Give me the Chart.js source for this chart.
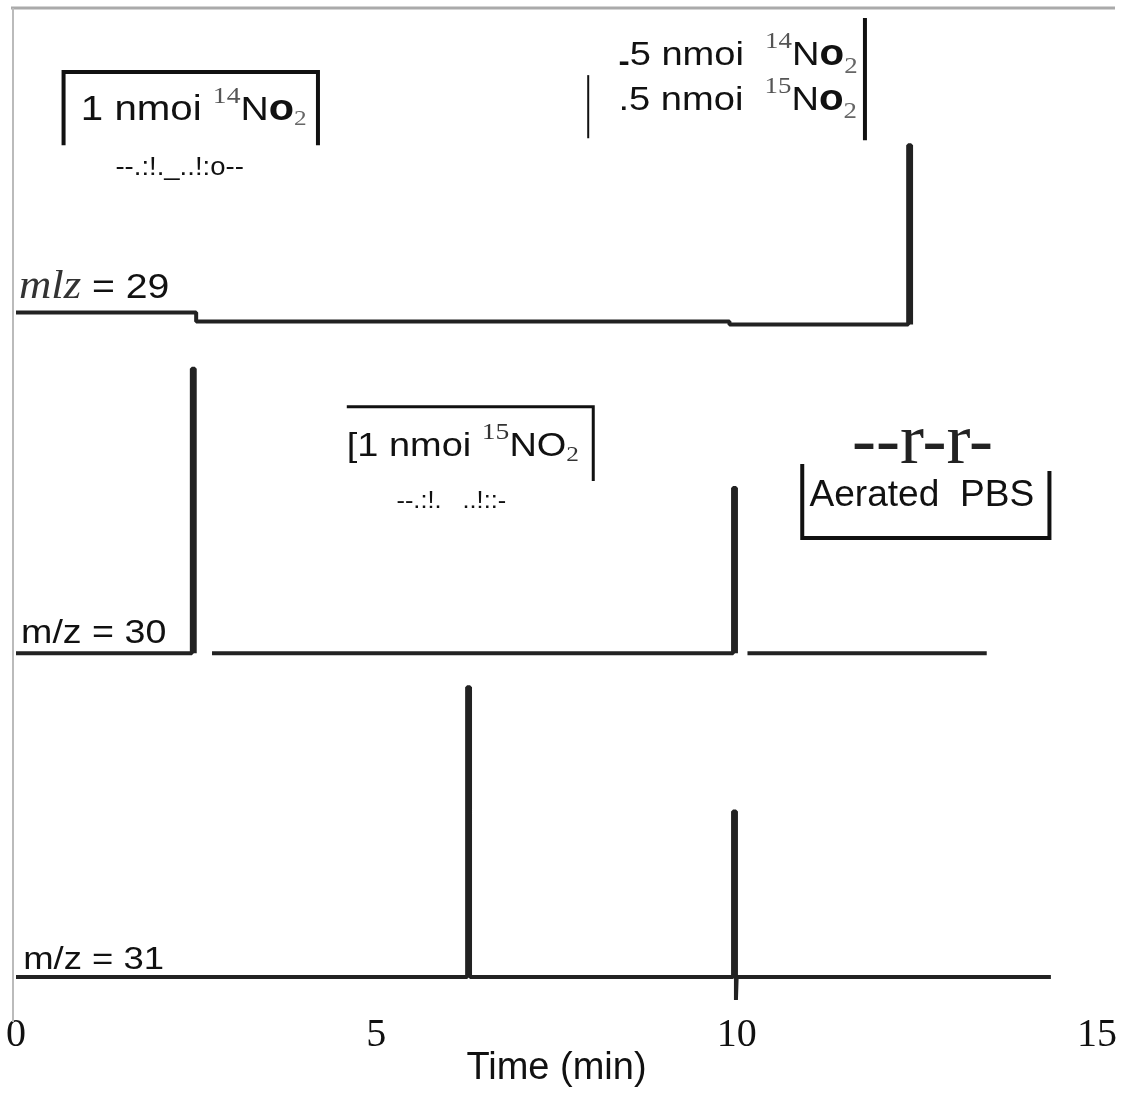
<!DOCTYPE html>
<html>
<head>
<meta charset="utf-8">
<title>m/z traces</title>
<script src="https://cdn.jsdelivr.net/npm/chart.js@4/dist/chart.umd.min.js"></script>
<style>
  html, body { margin: 0; padding: 0; background: #fff; }
  #wrap { width: 1123px; height: 1095px; }
</style>
</head>
<body>
<div id="wrap"><canvas id="chart"></canvas></div>
<script>
// time axis ticks (min)
const timeTicks = [0, 5, 10, 15];

// m/z = 29 trace (time in min, signal in arbitrary offset units)
const mz29Time = [0, 2.5, 2.5, 9.9, 9.9, 12.38, 12.38, 12.42, 12.42];
const mz29Signal = [69.6, 69.6, 68.7, 68.7, 68.4, 68.4, 86.3, 86.3, 68.4];

// m/z = 30 trace (null = gap in the recording)
const mz30Time = [0, 2.44, 2.44, 2.48, 2.48, 2.6, 2.72, 9.95, 9.95, 9.99, 9.99, 10.07, 10.15, 13.47];
const mz30Signal = [35.6, 35.6, 64.0, 64.0, 35.6, null, 35.6, 35.6, 52.1, 52.1, 35.6, null, 35.6, 35.6];

// m/z = 31 trace
const mz31Time = [0, 6.26, 6.26, 6.30, 6.30, 9.95, 9.95, 9.99, 9.99, 10.0, 14.36];
const mz31Signal = [3.3, 3.3, 32.2, 32.2, 3.3, 3.3, 19.8, 19.8, 1.0, 3.3, 3.3];

const SANS = '"Liberation Sans", Arial, sans-serif';
const SERIF = '"Liberation Serif", "Times New Roman", serif';

function toPoints(times, values) {
    return times.map((t, i) => ({ x: t, y: values[i] }));
}

function trace(label, times, values) {
    return {
        label: label,
        data: toPoints(times, values),
        borderColor: '#222',
        borderWidth: 4,
        pointRadius: 0,
        tension: 0,
        spanGaps: false,
        borderJoinStyle: 'bevel',
        borderCapStyle: 'butt'
    };
}

// draw a row of text pieces (super/subscripts), sx = horizontal stretch
function drawRuns(ctx, x, y, runs, sx) {
    sx = sx || 1;
    let cx = x;
    runs.forEach(r => {
        ctx.font = r.f;
        ctx.fillStyle = r.c || '#111';
        ctx.save();
        ctx.translate(cx, y + (r.dy || 0));
        ctx.scale(sx, 1);
        ctx.fillText(r.t, 0, 0);
        ctx.restore();
        cx += ctx.measureText(r.t).width * sx;
    });
}

const frame = {
    id: 'frame',
    beforeDatasetsDraw(chart) {
        const { ctx, chartArea } = chart;
        ctx.save();
        ctx.strokeStyle = '#aaa';
        ctx.lineWidth = 3;
        ctx.beginPath();
        ctx.moveTo(chartArea.left - 5, chartArea.top);
        ctx.lineTo(chart.width - 8, chartArea.top);
        ctx.stroke();
        ctx.lineWidth = 2;
        ctx.strokeStyle = '#bbb';
        ctx.beginPath();
        ctx.moveTo(chartArea.left - 3, chartArea.top);
        ctx.lineTo(chartArea.left - 3, chartArea.bottom + 12);
        ctx.stroke();
        ctx.restore();
    }
};

const annotate = {
    id: 'annotate',
    afterDatasetsDraw(chart) {
        const { ctx } = chart;
        const xs = chart.scales.x, ys = chart.scales.y;
        const X = t => xs.getPixelForValue(t);
        const Y = v => ys.getPixelForValue(v);

        function path(pts, w) {
            ctx.lineWidth = w;
            ctx.strokeStyle = '#111';
            ctx.beginPath();
            pts.forEach((p, i) => {
                if (i === 0) ctx.moveTo(X(p[0]), Y(p[1]));
                else ctx.lineTo(X(p[0]), Y(p[1]));
            });
            ctx.stroke();
        }

        ctx.save();
        ctx.textBaseline = 'alphabetic';
        ctx.textAlign = 'left';

        // 1 nmol 14NO2 injection (m/z 29)
        path([[0.66, 86.3], [0.66, 93.6], [4.19, 93.6], [4.19, 86.3]], 4);
        drawRuns(ctx, X(0.90), Y(88.8), [
            { t: '1 nmoi ', f: '35px ' + SANS },
            { t: '14', f: '24px ' + SERIF, c: '#555', dy: -17 },
            { t: 'N', f: '34px ' + SANS },
            { t: 'o', f: 'bold 36px ' + SANS },
            { t: '2', f: '22px ' + SERIF, c: '#666', dy: 5 }
        ], 1.15);
        drawRuns(ctx, X(1.38), Y(83.3), [{ t: '--.:!._..!:o--', f: '25px ' + SANS }], 1.1);

        // .5 nmol 14NO2 + .5 nmol 15NO2
        path([[7.94, 93.3], [7.94, 87.0]], 2);
        path([[11.78, 99.0], [11.78, 86.8]], 4);
        drawRuns(ctx, X(8.36), Y(94.3), [
            { t: '-', f: 'bold 30px ' + SANS, dy: 6 },
            { t: '5 nmoi  ', f: '34px ' + SANS },
            { t: '14', f: '24px ' + SERIF, c: '#555', dy: -17 },
            { t: 'N', f: '34px ' + SANS },
            { t: 'o', f: 'bold 36px ' + SANS },
            { t: '2', f: '24px ' + SERIF, c: '#666', dy: 8 }
        ], 1.12);
        drawRuns(ctx, X(8.36), Y(89.8), [
            { t: '.5 nmoi  ', f: '34px ' + SANS },
            { t: '15', f: '24px ' + SERIF, c: '#555', dy: -17 },
            { t: 'N', f: '34px ' + SANS },
            { t: 'o', f: 'bold 36px ' + SANS },
            { t: '2', f: '24px ' + SERIF, c: '#666', dy: 8 }
        ], 1.12);

        // 1 nmol 15NO2 injection (m/z 30)
        path([[4.59, 60.2], [8.01, 60.2], [8.01, 52.8]], 3);
        drawRuns(ctx, X(4.59), Y(55.3), [
            { t: '[1 nmoi ', f: '33px ' + SANS },
            { t: '15', f: '24px ' + SERIF, c: '#333', dy: -17 },
            { t: 'NO', f: '33px ' + SANS },
            { t: '2', f: '22px ' + SERIF, c: '#333', dy: 5 }
        ], 1.15);
        drawRuns(ctx, X(5.28), Y(50.1), [{ t: '--.:!.   ..!::-', f: '23px ' + SANS }], 1.1);

        // aerated PBS
        drawRuns(ctx, X(11.60), Y(54.6), [{ t: '--r-r-', f: '72px ' + SERIF, c: '#222' }]);
        path([[10.91, 54.5], [10.91, 47.1], [14.34, 47.1], [14.34, 53.8]], 4);
        drawRuns(ctx, X(11.01), Y(50.3), [{ t: 'Aerated  PBS', f: '36px ' + SANS }], 1.03);

        // trace labels
        drawRuns(ctx, X(0.04), Y(71.1), [
            { t: 'mlz', f: 'italic 40px ' + SERIF, c: '#333' },
            { t: ' = 29', f: '35px ' + SANS }
        ], 1.12);
        drawRuns(ctx, X(0.07), Y(36.6), [{ t: 'm/z = 30', f: '33px ' + SANS }], 1.14);
        drawRuns(ctx, X(0.1), Y(4.1), [{ t: 'm/z = 31', f: '32px ' + SANS }], 1.14);

        ctx.restore();
    }
};

const ctx = document.getElementById('chart').getContext('2d');
new Chart(ctx, {
    type: 'line',
    data: {
        datasets: [
            trace('m/z = 29', mz29Time, mz29Signal),
            trace('m/z = 30', mz30Time, mz30Signal),
            trace('m/z = 31', mz31Time, mz31Signal)
        ]
    },
    options: {
        responsive: true,
        maintainAspectRatio: false,
        animation: false,
        layout: { padding: { left: 15, right: 22, top: 8, bottom: 19 } },
        plugins: {
            legend: { display: false },
            tooltip: { enabled: false }
        },
        scales: {
            x: {
                type: 'linear',
                min: 0,
                max: 15,
                afterBuildTicks: axis => {
                    axis.ticks = timeTicks.map(v => ({ value: v }));
                },
                grid: { display: false, drawTicks: false },
                border: { display: false },
                ticks: {
                    padding: 6,
                    color: '#111',
                    maxRotation: 0,
                    font: { family: SERIF, size: 40, lineHeight: 1 }
                },
                title: {
                    display: true,
                    text: 'Time (min)',
                    color: '#111',
                    padding: { top: 0, bottom: 0 },
                    font: { family: SANS, size: 38, lineHeight: 0.37 }
                }
            },
            y: {
                display: false,
                min: 0,
                max: 100
            }
        }
    },
    plugins: [frame, annotate]
});
</script>
</body>
</html>
